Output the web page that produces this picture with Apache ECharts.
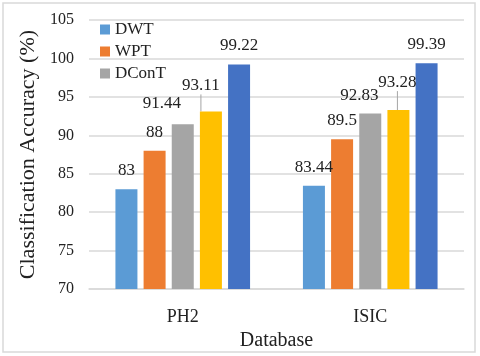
<!DOCTYPE html>
<html>
<head>
<meta charset="utf-8">
<script src="https://cdn.jsdelivr.net/npm/echarts@6/dist/echarts.min.js"></script>
<style>
  html, body { margin: 0; padding: 0; background: #fff; }
  #chart { width: 480px; height: 356px; }
</style>
</head>
<body>
<div id="chart"></div>
<script>
  // data
  var categories = ['PH2', 'ISIC'];
  var legendNames = ['DWT', 'WPT', 'DConT'];
  var dwt = [83, 83.44];
  var wpt = [88, 89.5];
  var dcont = [91.44, 92.83];
  var method4 = [93.11, 93.28];
  var method5 = [99.22, 99.39];

  var seriesNames = ['DWT', 'WPT', 'DConT', 'Method 4', 'Method 5'];
  var seriesValues = [dwt, wpt, dcont, method4, method5];
  var colors = ['#5b9bd5', '#ed7d31', '#a5a5a5', '#ffc000', '#4472c4'];

  // label nudges (seriesIndex -> dataIndex -> [dx, dy])
  var labelShift = {
    2: { 0: [-21, -2], 1: [-11, 0] },
    3: { 0: [-10, -7], 1: [-1, -9] }
  };

  var font = '"Liberation Serif", "Times New Roman", serif';

  var chart = echarts.init(document.getElementById('chart'));

  var series = seriesValues.map(function (vals, i) {
    return {
      name: seriesNames[i],
      type: 'bar',
      data: vals,
      barWidth: 22,
      barGap: '28%',
      itemStyle: { color: colors[i] },
      label: {
        show: true,
        position: 'top',
        distance: 10,
        color: '#222',
        fontFamily: font,
        fontSize: 17
      },
      labelLine: {
        show: i === 3,
        lineStyle: { color: '#a5a5a5', width: 1 }
      },
      labelLayout: function (params) {
        var s = labelShift[params.seriesIndex];
        var d = s && s[params.dataIndex];
        if (!d) return {};
        return { dx: d[0], dy: d[1] };
      }
    };
  });

  chart.setOption({
    animation: false,
    textStyle: { fontFamily: font },
    graphic: [{
      type: 'rect',
      shape: { x: 3, y: 3, width: 472, height: 349 },
      style: { fill: 'none', stroke: '#d9d9d9', lineWidth: 1.5 },
      silent: true
    }],
    grid: { left: 89, right: 16, top: 20, bottom: 61 },
    legend: {
      data: legendNames,
      orient: 'vertical',
      left: 95,
      top: 16,
      itemWidth: 10,
      itemHeight: 10,
      itemGap: 5,
      icon: 'rect',
      textStyle: { fontFamily: font, fontSize: 17, color: '#222' }
    },
    xAxis: {
      type: 'category',
      data: categories,
      name: 'Database',
      nameLocation: 'middle',
      nameGap: 38,
      nameTextStyle: { fontFamily: font, fontSize: 20, color: '#222' },
      axisTick: { show: false },
      axisLine: { lineStyle: { color: '#d9d9d9', width: 1.5 } },
      axisLabel: { margin: 19, fontFamily: font, fontSize: 18, color: '#222' }
    },
    yAxis: {
      type: 'value',
      min: 70,
      max: 105,
      interval: 5,
      name: 'Classification Accuracy (%)',
      nameLocation: 'middle',
      nameGap: 34,
      nameTextStyle: { fontFamily: font, fontSize: 22, color: '#222' },
      axisLine: { show: false },
      axisTick: { show: false },
      axisLabel: { margin: 15, fontFamily: font, fontSize: 16, color: '#222' },
      splitLine: { lineStyle: { color: '#d9d9d9', width: 1.5 } }
    },
    series: series
  });
</script>
</body>
</html>
